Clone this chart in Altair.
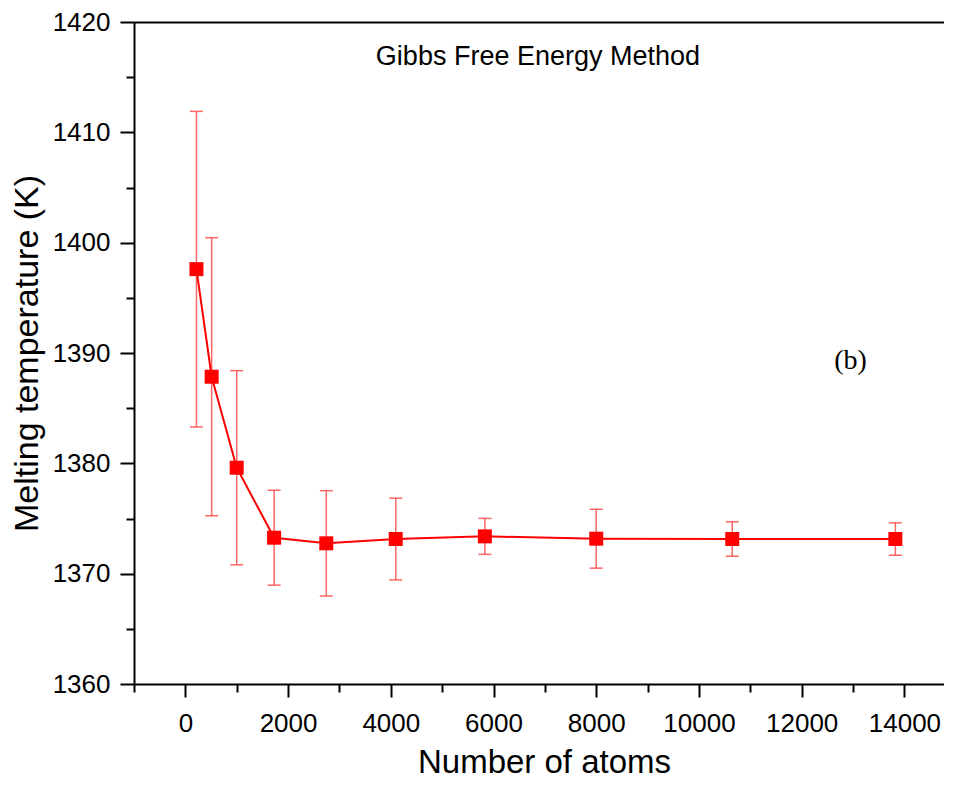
import altair as alt
import pandas as pd

# ---- data ----
atoms = [216, 512, 1000, 1728, 2744, 4096, 5832, 8000, 10648, 13824]
tm = [1397.6, 1387.85, 1379.6, 1373.26, 1372.75, 1373.14, 1373.38, 1373.17, 1373.14, 1373.14]
err = [14.3, 12.6, 8.8, 4.3, 4.77, 3.7, 1.63, 2.67, 1.56, 1.47]

x_major = [0, 2000, 4000, 6000, 8000, 10000, 12000, 14000]
x_minor = [-1000, 1000, 3000, 5000, 7000, 9000, 11000, 13000]
y_major = [1360, 1370, 1380, 1390, 1400, 1410, 1420]
y_minor = [1365, 1375, 1385, 1395, 1405, 1415]

title_text = ["Gibbs Free Energy Method"]
title_x = [6865]
title_y = [1416.1]
label_text = ["(b)"]
label_x = [12950]
label_y = [1388.55]

df = pd.DataFrame({
    "atoms": atoms,
    "tm": tm,
    "lo": [t - e for t, e in zip(tm, err)],
    "hi": [t + e for t, e in zip(tm, err)],
})
df_title = pd.DataFrame({"x": title_x, "y": title_y, "t": title_text})
df_label = pd.DataFrame({"x": label_x, "y": label_y, "t": label_text})

FONT = "Liberation Sans"
RED = "#ff0000"
ERR = "#ff4040"

xs = alt.Scale(domain=[-1000, 14771], nice=False, zero=False)
ys = alt.Scale(domain=[1360, 1420], nice=False, zero=False)

major_x = alt.Axis(
    orient="bottom", values=x_major, format="d", grid=False,
    domain=True, domainColor="black", domainWidth=2,
    ticks=True, tickColor="black", tickWidth=2, tickSize=13,
    labels=True, labelFont=FONT, labelFontSize=26, labelColor="black", labelPadding=13,
    labelFlush=False, labelOverlap=False,
    title="Number of atoms", titleFont=FONT, titleFontSize=33, titleFontWeight="normal",
    titleColor="black", titleBaseline="alphabetic", titleAlign="center",
    titleX=410, titleY=88,
)
major_y = alt.Axis(
    orient="left", values=y_major, format="d", grid=False,
    domain=True, domainColor="black", domainWidth=2,
    ticks=True, tickColor="black", tickWidth=2, tickSize=14,
    labels=True, labelFont=FONT, labelFontSize=26, labelColor="black", labelPadding=10,
    labelFlush=False, labelOverlap=False,
    title="Melting temperature (K)", titleFont=FONT, titleFontSize=34, titleFontWeight="normal",
    titleColor="black", titleBaseline="alphabetic", titleAlign="center", titleAngle=270,
    titleX=-97, titleY=331,
)
minor_x = alt.Axis(
    orient="bottom", values=x_minor, grid=False, domain=False, labels=False,
    ticks=True, tickColor="black", tickWidth=2, tickSize=8, title=None,
)
minor_y = alt.Axis(
    orient="left", values=y_minor, grid=False, domain=False, labels=False,
    ticks=True, tickColor="black", tickWidth=2, tickSize=8, title=None,
)
top_x = alt.Axis(
    orient="top", grid=False, domain=True, domainColor="black", domainWidth=2,
    labels=False, ticks=False, title=None,
)

base = alt.Chart(df)

err_bars = base.mark_rule(color=ERR, strokeWidth=1.5, opacity=0.8).encode(
    x=alt.X("atoms:Q", scale=xs, axis=minor_x),
    y=alt.Y("lo:Q", scale=ys, axis=minor_y),
    y2="hi:Q",
)
cap_hi = base.mark_rule(color=ERR, strokeWidth=1.5, opacity=0.8, xOffset=-6.5, x2Offset=6.5).encode(
    x=alt.X("atoms:Q", scale=xs, axis=None),
    x2="atoms:Q",
    y=alt.Y("hi:Q", scale=ys, axis=None),
)
cap_lo = base.mark_rule(color=ERR, strokeWidth=1.5, opacity=0.8, xOffset=-6.5, x2Offset=6.5).encode(
    x=alt.X("atoms:Q", scale=xs, axis=None),
    x2="atoms:Q",
    y=alt.Y("lo:Q", scale=ys, axis=None),
)
line = base.mark_line(color=RED, strokeWidth=2).encode(
    x=alt.X("atoms:Q", scale=xs, axis=top_x),
    y=alt.Y("tm:Q", scale=ys, axis=None),
)
points = base.mark_square(size=196, color=RED, opacity=1).encode(
    x=alt.X("atoms:Q", scale=xs, axis=major_x),
    y=alt.Y("tm:Q", scale=ys, axis=major_y),
)
title_mark = alt.Chart(df_title).mark_text(
    font=FONT, fontSize=27, color="black", align="center", baseline="alphabetic"
).encode(
    x=alt.X("x:Q", scale=xs, axis=None),
    y=alt.Y("y:Q", scale=ys, axis=None),
    text="t:N",
)
label_mark = alt.Chart(df_label).mark_text(
    font="Liberation Serif", fontSize=28, color="black", align="center", baseline="alphabetic"
).encode(
    x=alt.X("x:Q", scale=xs, axis=None),
    y=alt.Y("y:Q", scale=ys, axis=None),
    text="t:N",
)

chart = alt.layer(
    err_bars, cap_hi, cap_lo, line, points, title_mark, label_mark
).resolve_axis(
    x="independent", y="independent"
).properties(
    width=810, height=662,
    autosize=alt.AutoSizeParams(type="none"),
    padding={"left": 126, "top": 14, "right": 0, "bottom": 95},
    background="white",
).configure_view(
    stroke=None
)

chart.save("out.html", embed_options={"renderer": "svg", "actions": False})
